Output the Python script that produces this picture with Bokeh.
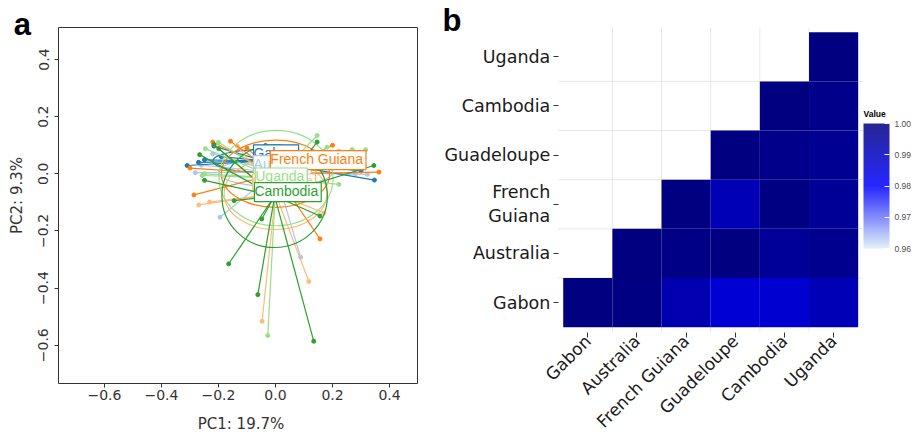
import math
from bokeh.plotting import figure
from bokeh.models import (Range1d, FixedTicker, CustomJSTickFormatter, Label, ColumnDataSource,
                          LinearColorMapper, ColorBar, PrintfTickFormatter)
from bokeh.layouts import row, column
from bokeh.embed import file_html
from bokeh.resources import INLINE
from bokeh.core.properties import value
from bokeh.transform import transform

# ---------------- Panel a : PCA (PC1 vs PC2) ----------------
groups = ["Gabon", "Australia", "French Guiana", "Guadeloupe", "Cambodia", "Uganda"]
group_colors = ["#1f77b4", "#aec7e8", "#ff7f0e", "#ffbb78", "#2ca02c", "#98df8a"]

gabon_x = [-0.310, -0.216, -0.249, 0.347, -0.035, -0.190, 0.300, -0.270, 0.120]
gabon_y = [0.029, 0.097, 0.049, -0.022, 0.099, 0.060, 0.010, 0.040, 0.070]
australia_x = [-0.195, 0.088, -0.281, 0.322, -0.260, -0.220, 0.200, 0.280]
australia_y = [-0.152, -0.292, 0.004, -0.002, 0.030, 0.070, 0.020, 0.000]
fguiana_x = [-0.286, 0.156, 0.363, -0.220, -0.158, -0.300, 0.200, -0.100, 0.310]
fguiana_y = [-0.074, -0.228, 0.006, 0.111, 0.114, 0.020, 0.100, 0.090, 0.030]
guadeloupe_x = [-0.047, 0.117, -0.269, -0.231, 0.170, 0.222, -0.134, 0.100]
guadeloupe_y = [-0.516, -0.377, -0.109, -0.099, -0.137, 0.079, 0.097, 0.050]
cambodia_x = [-0.164, -0.062, 0.134, -0.048, 0.156, 0.345, -0.216, -0.145, -0.249, 0.146, -0.199, -0.266]
cambodia_y = [-0.315, -0.423, -0.586, -0.158, -0.148, 0.029, 0.102, -0.094, -0.023, 0.111, 0.088, 0.067]
uganda_x = [-0.027, 0.222, 0.269, 0.181, -0.246, -0.257, 0.316, 0.146, -0.249, -0.200]
uganda_y = [-0.566, -0.037, 0.085, 0.093, 0.088, -0.006, 0.084, 0.134, 0.000, 0.110]

points_x = [gabon_x, australia_x, fguiana_x, guadeloupe_x, cambodia_x, uganda_x]
points_y = [gabon_y, australia_y, fguiana_y, guadeloupe_y, cambodia_y, uganda_y]

# per group, same order as `groups`
centroid_x = [-0.040, 0.000, 0.000, 0.000, -0.003, 0.002]
centroid_y = [0.045, 0.005, 0.000, -0.070, -0.078, -0.015]
ellipse_w = [0.36, 0.40, 0.38, 0.36, 0.37, 0.40]
ellipse_h = [0.08, 0.10, 0.235, 0.25, 0.36, 0.334]
label_x = [-0.077, -0.077, -0.018, -0.080, -0.074, -0.071]
label_y = [0.068, 0.030, 0.048, -0.027, -0.064, -0.013]

draw_order = [1, 0, 3, 2, 5, 4]
label_order = [0, 1, 3, 2, 5, 4]

x_ticks_a = [-0.6, -0.4, -0.2, 0.0, 0.2, 0.4]
y_ticks_a = [-0.6, -0.4, -0.2, 0.0, 0.2, 0.4]
x_title_a = "PC1: 19.7%"
y_title_a = "PC2: 9.3%"

# ---------------- Panel b : similarity heatmap ----------------
countries = ["Gabon", "Australia", "French Guiana", "Guadeloupe", "Cambodia", "Uganda"]
sim_rows = [
    [1.000, 0.9995, 0.9922, 0.9866, 0.9874, 0.9915],
    [None, 1.000, 0.9990, 1.000, 0.9960, 0.9975],
    [None, None, 1.000, 0.9915, 0.9995, 0.9965],
    [None, None, None, 1.000, 0.9982, 0.9970],
    [None, None, None, None, 1.000, 0.9982],
    [None, None, None, None, None, 1.000],
]
scale_ticks = [0.96, 0.97, 0.98, 0.99, 1.00]

# ---------- colour palette (low -> mid -> high) ----------
def _rgb(h):
    h = h.lstrip("#")
    return tuple(int(h[i:i + 2], 16) for i in (0, 2, 4))

def _mix(c1, c2, t):
    a, b = _rgb(c1), _rgb(c2)
    return "#%02x%02x%02x" % tuple(int(round(a[i] + (b[i] - a[i]) * t)) for i in range(3))

low_c, mid_c, high_c = "#dcf0f6", "#0000ff", "#000080"
palette = []
for i in range(256):
    t = i / 255
    if t <= 0.5:
        palette.append(_mix(low_c, mid_c, t / 0.5))
    else:
        palette.append(_mix(mid_c, high_c, (t - 0.5) / 0.5))

# ================= figure a =================
# panel box (data limits) and its pixel placement inside a 438x440 canvas
xa0, xa1, ya0, ya1 = -0.761, 0.498, -0.734, 0.512
WA, HA = 438, 440
BL, BR, BT, BB = 58, 21, 27, 57          # space around the panel box
ux_a = (WA - BL - BR) / (xa1 - xa0)
uy_a = (HA - BT - BB) / (ya1 - ya0)
pa = figure(width=WA, height=HA,
            x_range=Range1d(xa0 - BL / ux_a, xa1 + BR / ux_a),
            y_range=Range1d(ya0 - BB / uy_a, ya1 + BT / uy_a),
            output_backend="svg", toolbar_location=None, min_border=0)
pa.xgrid.visible = False
pa.ygrid.visible = False
pa.outline_line_color = None
pa.background_fill_color = "white"
pa.border_fill_color = "white"

fmt = CustomJSTickFormatter(code="return tick.toFixed(1).replace('-', '\u2212');")
for ax, ticks in ((pa.xaxis, x_ticks_a), (pa.yaxis, y_ticks_a)):
    ax.ticker = FixedTicker(ticks=ticks, minor_ticks=[])
    ax.formatter = fmt
    ax.axis_line_color = None
    ax.major_tick_in = 0
    ax.major_tick_out = 4
    ax.major_tick_line_color = "#333333"
    ax.major_label_text_font = "DejaVu Sans"
    ax.major_label_text_font_size = "14px"
    ax.major_label_text_color = "#333333"
pa.xaxis.fixed_location = ya0
pa.yaxis.fixed_location = xa0
pa.xaxis.major_label_standoff = 2
pa.yaxis.major_label_orientation = "vertical"
pa.yaxis.major_label_standoff = 6

# panel box
pa.quad(left=[xa0], right=[xa1], bottom=[ya0], top=[ya1], fill_color=None,
        line_color="#333333", line_width=1)

for g in draw_order:
    xs, ys = points_x[g], points_y[g]
    col = group_colors[g]
    pa.segment(x0=xs, y0=ys, x1=[centroid_x[g]] * len(xs), y1=[centroid_y[g]] * len(ys),
               line_color=col, line_width=1.2)
    pa.scatter(x=xs, y=ys, size=4, fill_color=col, line_color=col)
    pa.ellipse(x=[centroid_x[g]], y=[centroid_y[g]], width=[ellipse_w[g]], height=[ellipse_h[g]],
               fill_color=None, line_color=col, line_width=1.2)

for g in label_order:
    fs = "11px" if groups[g] == "Guadeloupe" else "14px"
    pa.text(x=[label_x[g]], y=[label_y[g]], text=[groups[g]], text_font=value("Liberation Sans"),
            text_font_size=fs, text_color=group_colors[g], text_align="left", text_baseline="middle",
            background_fill_color="white", border_line_color=group_colors[g], border_line_width=1.2,
            padding=(0, 3, 0, 3))

# axis titles
pa.add_layout(Label(x=xa0 + (240.5 - BL) / ux_a, y=ya0 - 40.0 / uy_a, text=x_title_a,
                    text_font="DejaVu Sans", text_font_size="15px", text_color="#333333",
                    text_align="center", text_baseline="middle"))
pa.add_layout(Label(x=xa0 - 42.0 / ux_a, y=ya1 - (195.0 - BT) / uy_a, text=y_title_a,
                    angle=math.pi / 2, text_font="DejaVu Sans", text_font_size="15px",
                    text_color="#333333", text_align="center", text_baseline="middle"))
# panel letter
pa.add_layout(Label(x=xa0 - 44.7 / ux_a, y=ya1 + 3.5 / uy_a, text="a",
                    text_font="Liberation Sans", text_font_style="bold", text_font_size="31px",
                    text_color="black", text_baseline="middle"))

# ================= figure b =================
xb0, xb1, yb0, yb1 = -0.6, 5.6, -0.6, 5.6
WB, HB = 481, 440
CL, CR, CT, CB = 119.8, 56.4, 26.8, 108.4
ux_b = (WB - CL - CR) / (xb1 - xb0)
uy_b = (HB - CT - CB) / (yb1 - yb0)
pb = figure(width=WB, height=HB,
            x_range=Range1d(xb0 - CL / ux_b, xb1 + CR / ux_b),
            y_range=Range1d(yb0 - CB / uy_b, yb1 + CT / uy_b),
            output_backend="svg", toolbar_location=None, min_border=0)
pb.outline_line_color = None
pb.background_fill_color = "white"
pb.border_fill_color = "white"
pb.xgrid.visible = False
pb.ygrid.visible = False

# light grid lines at the cell boundaries, spanning the panel only
boundaries = [i + 0.5 for i in range(len(countries) - 1)]
nb = len(boundaries)
pb.segment(x0=boundaries, x1=boundaries, y0=[yb0] * nb, y1=[yb1] * nb,
           line_color="#e8e8e8", line_width=1)
pb.segment(x0=[xb0] * nb, x1=[xb1] * nb, y0=boundaries, y1=boundaries,
           line_color="#e8e8e8", line_width=1)

hx, hy, hv = [], [], []
for r, vals in enumerate(sim_rows):
    for c, v in enumerate(vals):
        if v is not None:
            hx.append(c)
            hy.append(r)
            hv.append(v)
src = ColumnDataSource(dict(x=hx, y=hy, v=hv))
mapper = LinearColorMapper(palette=palette, low=scale_ticks[0], high=scale_ticks[-1])
pb.rect(x="x", y="y", width=1, height=1, source=src, fill_color=transform("v", mapper),
        line_color=None)

idx = list(range(len(countries)))
pb.xaxis.ticker = FixedTicker(ticks=idx, minor_ticks=[])
pb.yaxis.ticker = FixedTicker(ticks=idx, minor_ticks=[])
pb.xaxis.major_label_overrides = {i: c for i, c in enumerate(countries)}
pb.yaxis.major_label_overrides = {i: (c.replace(" ", "\n") if c == "French Guiana" else c)
                                  for i, c in enumerate(countries)}
for ax in (pb.xaxis, pb.yaxis):
    ax.axis_line_color = None
    ax.major_tick_in = 0
    ax.major_tick_out = 5
    ax.major_tick_line_color = "#333333"
    ax.major_label_text_font = "DejaVu Sans"
    ax.major_label_text_color = "#1a1a1a"
pb.xaxis.fixed_location = yb0
pb.yaxis.fixed_location = xb0
pb.yaxis.major_label_text_font_size = "17.5px"
pb.xaxis.major_label_text_font_size = "17px"
pb.xaxis.major_label_orientation = math.pi / 4
pb.xaxis.major_label_standoff = 1
pb.yaxis.major_label_standoff = 3

cb = ColorBar(color_mapper=mapper, width=26, height=125,
              location=(WB - CR + 0.4, 192), padding=0, margin=0,
              ticker=FixedTicker(ticks=scale_ticks, minor_ticks=[]),
              formatter=PrintfTickFormatter(format="%.2f"),
              major_label_text_font="Liberation Sans", major_label_text_font_size="8.5px",
              major_label_text_color="#4d4d4d", label_standoff=5, scale_alpha=0.85,
              major_tick_line_color="white", major_tick_in=5, major_tick_out=0,
              bar_line_color=None, background_fill_alpha=0)
pb.add_layout(cb)

pb.add_layout(Label(x=xb1 + 0.4 / ux_b, y=yb1 - (113.0 - 26.8) / uy_b, text="Value",
                    text_font="Liberation Sans", text_font_style="bold", text_font_size="8.5px",
                    text_color="black", text_baseline="middle"))
pb.add_layout(Label(x=xb0 - 115.8 / ux_b, y=yb1 + 7.3 / uy_b, text="b",
                    text_font="Liberation Sans", text_font_style="bold", text_font_size="31px",
                    text_color="black", text_baseline="middle"))

layout = row(column(pa), column(pb))
open("out.html", "w").write(file_html(layout, INLINE))
